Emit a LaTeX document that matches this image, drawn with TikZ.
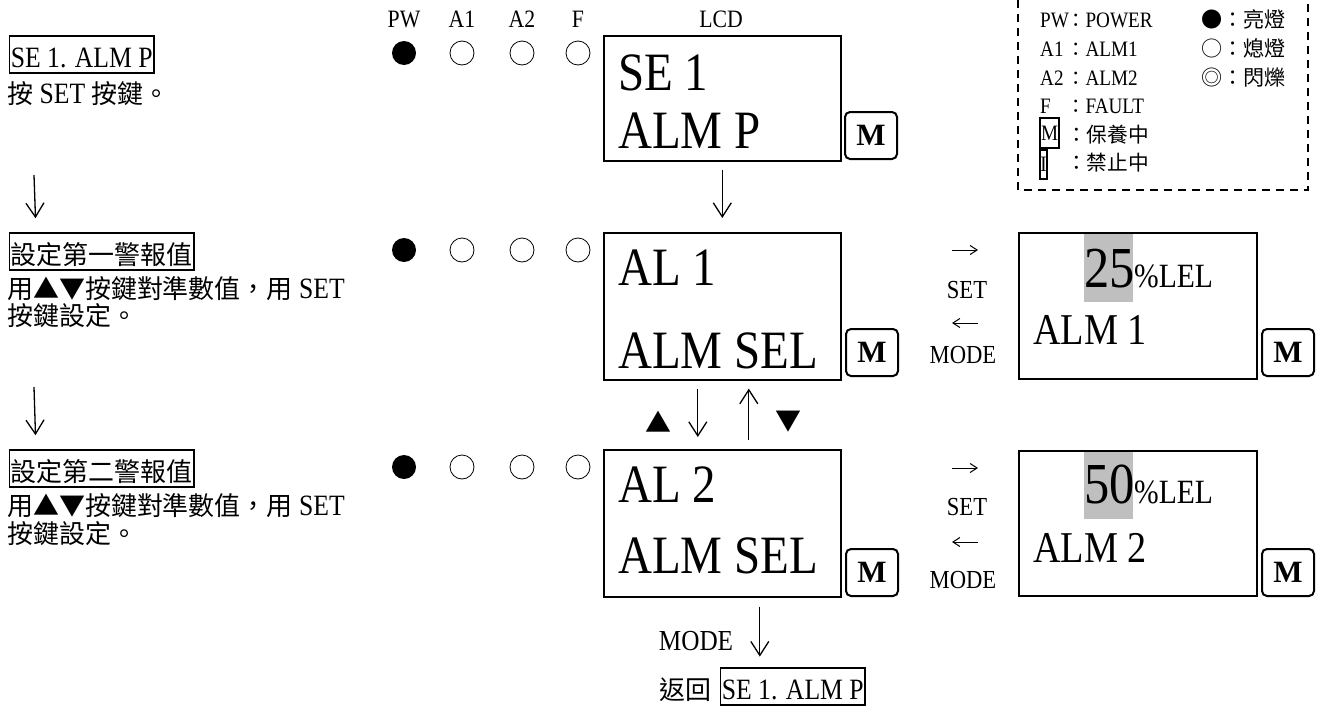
\documentclass[tikz,border=0pt]{standalone}
\usepackage{fontspec}
\newfontfamily\tms{Liberation Serif}[FakeStretch=0.87]
\newfontfamily\mfont{Liberation Serif}
\newfontfamily\cjk{Noto Sans CJK TC}[Scale=0.88]
\usetikzlibrary{arrows.meta}
\newcommand\zh[1]{{\cjk #1}}
\newcommand\fs[1]{\fontsize{#1}{#1}\selectfont}
\tikzset{
  txt/.style={inner sep=0pt, anchor=base west, font=\tms\fs{29.5}},
  lbox/.style={draw, line width=1.6pt, inner xsep=1.5pt, inner ysep=0pt, text height=31pt, text depth=6pt, anchor=base west, font=\tms\fs{29.5}},
  hdr/.style={inner sep=0pt, anchor=base, font=\tms\fs{25}},
  lcdbox/.style={draw, line width=1.6pt, minimum width=237pt, anchor=north west, inner sep=0pt},
  big/.style={inner sep=0pt, anchor=base west, font=\tms\fs{54}},
  mkey/.style={draw, line width=2pt, rounded corners=5pt, minimum width=52pt, minimum height=47pt, anchor=north west, inner sep=0pt, font=\mfont\bfseries\fs{31}},
  ledon/.style={circle, fill=black, minimum size=24pt, inner sep=0pt},
  ledoff/.style={circle, draw, line width=0.8pt, minimum size=24pt, inner sep=0pt},
  arr/.style={-{Straight Barb[length=14pt,width=18pt]}, line width=1.3pt},
  sarr/.style={-{Straight Barb[length=7pt,width=9pt]}, line width=1pt},
  lab/.style={inner sep=0pt, anchor=base, font=\tms\fs{26}},
  leg/.style={inner sep=0pt, anchor=base west, font=\tms\fs{22}},
  legbox/.style={draw, line width=2pt, inner sep=0pt, anchor=north west, font=\tms\fs{22}},
}
\begin{document}
\begin{tikzpicture}[x=1pt,y=-1pt]
\useasboundingbox (0,0) rectangle (1320,707);
\fill[white] (0,0) rectangle (1320,707);

% ---------- left column ----------
\node[lbox] (b1) at (8.5,67) {SE 1. ALM P};
\node[txt] (t1) at (7,103) {\zh{按} SET \zh{按鍵。}};
\coordinate (la1) at (34,175);
\node[lbox] (b2) at (8.5,264) {\zh{設定第一警報值}};
\node[txt] (t2a) at (7,298) {\zh{用▲▼按鍵對準數值，用} SET};
\node[txt] (t2b) at (7,325) {\zh{按鍵設定。}};
\coordinate (la2) at (34,387);
\node[lbox] (b3) at (8.5,481) {\zh{設定第二警報值}};
\node[txt] (t3a) at (7,515) {\zh{用▲▼按鍵對準數值，用} SET};
\node[txt] (t3b) at (7,543) {\zh{按鍵設定。}};
\draw[arr] (la1) -- ([xshift=27pt,yshift=14pt]b2.north west);
\draw[arr] (la2) -- ([xshift=27pt,yshift=14pt]b3.north west);

% ---------- headers ----------
\node[hdr] (hpw) at (404,27) {PW};
\node[hdr] (ha1) at (462,27) {A1};
\node[hdr] (ha2) at (522,27) {A2};
\node[hdr] (hf)  at (578,27) {F};
\node[hdr] (hlcd) at (721,27) {LCD};

% ---------- LEDs ----------
\foreach \r/\y in {1/53,2/250,3/467}{
  \node[ledon]  (pw\r) at (404,\y) {};
  \node[ledoff] (aa\r) at (462,\y) {};
  \node[ledoff] (ab\r) at (522,\y) {};
  \node[ledoff] (ff\r) at (578,\y) {};
}

% ---------- LCD boxes ----------
\node[lcdbox, minimum height=125pt] (lcd1) at (603,35) {};
\node[big] (l1a) at (618,90) {SE 1};
\node[big] (l1b) at (618,148) {ALM P};
\node[mkey] (m1) at (844,111) {M};

\node[lcdbox, minimum height=147pt] (lcd2) at (603,232) {};
\node[big] (l2a) at (618,285) {AL 1};
\node[big] (l2b) at (618,368) {ALM SEL};
\node[mkey] (m2) at (845,328) {M};

\node[lcdbox, minimum height=147pt] (lcd3) at (603,449) {};
\node[big] (l3a) at (618,502) {AL 2};
\node[big] (l3b) at (618,573) {ALM SEL};
\node[mkey] (m3) at (845,548) {M};

\draw[arr] ([yshift=-8pt]lcd1.south) -- ([yshift=14pt]lcd2.north);
\draw[arr] ([xshift=-24.5pt,yshift=-8pt]lcd2.south) -- ([xshift=-24.5pt,yshift=12pt]lcd3.north);
\draw[arr] ([xshift=26.5pt,yshift=9pt]lcd3.north) -- ([xshift=26.5pt,yshift=-8pt]lcd2.south);
\node[inner sep=0pt, font=\tms\fs{29.5}] (up) at (658,422) {\zh{▲}};
\node[inner sep=0pt, font=\tms\fs{29.5}] (dn) at (788,422) {\zh{▼}};

% ---------- bottom ----------
\draw[arr] ([xshift=37.5pt,yshift=-9pt]lcd3.south) -- ([xshift=37.5pt,yshift=-59pt]lcd3.south);
\node[inner sep=0pt, anchor=base, font=\tms\fs{29}] (bmode) at (696,650) {MODE};
\node[inner sep=0pt, anchor=base east, font=\tms\fs{29.5}] (ret) at (712,699) {\zh{返回}};
\node[lbox] (bret) at (719.5,699) {SE 1. ALM P};

% ---------- SET / MODE ----------
\coordinate (s2a) at (952,250); \coordinate (s2b) at (978,250);
\coordinate (s2c) at (978,323); \coordinate (s2d) at (952,323);
\draw[sarr] (s2a) -- (s2b);
\draw[sarr] (s2c) -- (s2d);
\node[lab] (set2) at (967,298) {SET};
\node[lab] (mode2) at (963,363) {MODE};
\coordinate (s3a) at (952,468); \coordinate (s3b) at (978,468);
\coordinate (s3c) at (978,542); \coordinate (s3d) at (952,542);
\draw[sarr] (s3a) -- (s3b);
\draw[sarr] (s3c) -- (s3d);
\node[lab] (set3) at (967,515) {SET};
\node[lab] (mode3) at (963,588) {MODE};

% ---------- right boxes ----------
\fill[black!25] (1084,233) rectangle (1133,302);
\node[lcdbox, minimum width=238pt, minimum height=146pt] (r2) at (1018,232) {};
\node[inner sep=0pt, anchor=base west, font=\tms\fs{58}] (v2) at (1084,287) {25};
\node[inner sep=0pt, anchor=base west, font=\tms\fs{34}] (u2) at (1134,287) {\%LEL};
\node[inner sep=0pt, anchor=base west, font=\tms\fs{44}] (n2) at (1033,344) {ALM 1};
\node[mkey] (m4) at (1261,328) {M};

\fill[black!25] (1084,451) rectangle (1133,519);
\node[lcdbox, minimum width=238pt, minimum height=145pt] (r3) at (1018,450) {};
\node[inner sep=0pt, anchor=base west, font=\tms\fs{58}] (v3) at (1084,503) {50};
\node[inner sep=0pt, anchor=base west, font=\tms\fs{34}] (u3) at (1134,503) {\%LEL};
\node[inner sep=0pt, anchor=base west, font=\tms\fs{44}] (n3) at (1033,562) {ALM 2};
\node[mkey] (m5) at (1261,548) {M};

% ---------- legend ----------
\draw[dashed, dash pattern=on 8pt off 6pt, line width=2pt] (1018,0) -- (1018,190) -- (1308,190) -- (1308,0);
\node[leg] (k1) at (1040,27) {PW};
\node[leg] (v1) at (1066,27) {\zh{：}POWER};
\node[leg] (k2) at (1040,56) {A1};
\node[leg] (vv2) at (1066,56) {\zh{：}ALM1};
\node[leg] (k3) at (1040,85) {A2};
\node[leg] (vv3) at (1066,85) {\zh{：}ALM2};
\node[leg] (k4) at (1040,113) {F};
\node[leg] (vv4) at (1066,113) {\zh{：}FAULT};
\node[legbox, minimum width=19pt, minimum height=30pt] (k5) at (1039,117) {M};
\node[leg, font=\tms\fs{23.5}] (vv5) at (1066,142) {\zh{：保養中}};
\node[legbox, minimum width=7pt, minimum height=29pt] (k6) at (1039,149) {I};
\node[leg, font=\tms\fs{23.5}] (vv6) at (1066,170) {\zh{：禁止中}};
\node[leg, font=\tms\fs{24}] (s1) at (1201,27) {\zh{●：亮燈}};
\node[leg, font=\tms\fs{24}] (s2) at (1201,56) {\zh{○：熄燈}};
\node[leg, font=\tms\fs{24}] (s3) at (1201,85) {\zh{◎：閃爍}};
\end{tikzpicture}
\end{document}
